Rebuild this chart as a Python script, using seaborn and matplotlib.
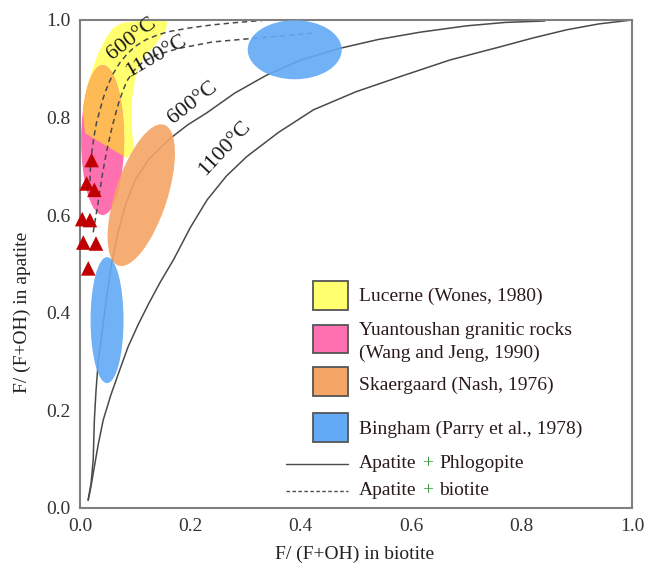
import numpy as np
import pandas as pd
import matplotlib
matplotlib.use("Agg")
import matplotlib.pyplot as plt
import seaborn as sns
from matplotlib.patches import Ellipse, Polygon, Rectangle
from matplotlib.lines import Line2D
from matplotlib.transforms import Affine2D

# ---- Apatite + phlogopite equilibrium curves (solid) ----
phl_600_x = [0.0145, 0.020, 0.024, 0.025, 0.026, 0.029, 0.033, 0.040, 0.048, 0.057, 0.068, 0.082,
             0.100, 0.125, 0.163, 0.195, 0.230, 0.280, 0.338, 0.400, 0.471, 0.540, 0.616, 0.700,
             0.770, 0.842]
phl_600_y = [0.016, 0.050, 0.100, 0.140, 0.180, 0.240, 0.300, 0.360, 0.430, 0.500, 0.560, 0.620,
             0.672, 0.715, 0.757, 0.785, 0.810, 0.850, 0.887, 0.918, 0.942, 0.960, 0.975, 0.988,
             0.995, 0.998]
phl_1100_x = [0.015, 0.020, 0.025, 0.033, 0.042, 0.056, 0.072, 0.087, 0.105, 0.125, 0.145, 0.170,
              0.200, 0.230, 0.265, 0.302, 0.360, 0.423, 0.500, 0.580, 0.670, 0.761, 0.820, 0.882,
              0.940, 1.0]
phl_1100_y = [0.016, 0.045, 0.078, 0.130, 0.180, 0.232, 0.283, 0.330, 0.375, 0.420, 0.462, 0.510,
              0.575, 0.631, 0.680, 0.720, 0.770, 0.816, 0.853, 0.884, 0.918, 0.945, 0.963, 0.980,
              0.992, 1.0]

# ---- Apatite + biotite equilibrium curves (dashed) ----
bt_600_x = [0.018, 0.019, 0.022, 0.026, 0.030, 0.036, 0.042, 0.050, 0.060, 0.072, 0.085, 0.100,
            0.120, 0.140, 0.160, 0.200, 0.240, 0.285, 0.330]
bt_600_y = [0.670, 0.700, 0.735, 0.765, 0.790, 0.815, 0.840, 0.865, 0.890, 0.912, 0.930, 0.946,
            0.960, 0.969, 0.976, 0.984, 0.990, 0.995, 0.999]
bt_1100_x = [0.024, 0.028, 0.032, 0.036, 0.040, 0.044, 0.048, 0.053, 0.058, 0.064, 0.070, 0.077,
             0.085, 0.098, 0.115, 0.140, 0.180, 0.240, 0.330, 0.420]
bt_1100_y = [0.565, 0.593, 0.620, 0.650, 0.680, 0.705, 0.730, 0.755, 0.780, 0.806, 0.830, 0.853,
             0.875, 0.897, 0.915, 0.929, 0.942, 0.955, 0.964, 0.973]

# ---- Measured samples ----
sample_x = [0.021, 0.012, 0.026, 0.004, 0.018, 0.006, 0.029, 0.015]
sample_y = [0.713, 0.665, 0.652, 0.592, 0.590, 0.544, 0.542, 0.491]

# ---- Reference fields ----
lucerne_outline = [(0.047, 0.963), (0.060, 0.984), (0.076, 0.994), (0.109, 0.998), (0.145, 1.0),
                   (0.158, 0.996), (0.156, 0.980), (0.136, 0.949), (0.112, 0.918), (0.100, 0.881),
                   (0.094, 0.836), (0.094, 0.775), (0.098, 0.734), (0.085, 0.717), (0.009, 0.768),
                   (0.005, 0.816), (0.011, 0.857), (0.022, 0.898), (0.034, 0.934)]
# centre (data), width / height (screen px), angle (deg)
yuantoushan_field = (0.041, 0.754, 43, 150, 0)
skaergaard_field = (0.111, 0.641, 148, 52, 72)
bingham_low_field = (0.049, 0.385, 33, 126, 0)
bingham_high_field = (0.389, 0.939, 94, 59, 0)

legend_fields = ["Lucerne (Wones, 1980)",
                 "Yuantoushan granitic rocks\n(Wang and Jeng, 1990)",
                 "Skaergaard (Nash, 1976)",
                 "Bingham (Parry et al., 1978)"]
field_colors = ["#FFFF70", "#FF70B0", "#F4A465", "#62AAF5"]
amber = "#FDBA55"

sns.set_theme(style="white")
plt.rcParams["font.family"] = ["Liberation Serif", "DejaVu Serif"]
plt.rcParams["mathtext.fontset"] = "stix"

W, H = 645, 565
fig = plt.figure(figsize=(W / 100, H / 100), dpi=100)
ax = fig.add_axes([80 / W, 57 / H, 552 / W, 488 / H])
ax.set_xlim(0, 1)
ax.set_ylim(0, 1)
PX_X, PX_Y = 552.0, 488.0


def field(spec, color, z, alpha=1.0):
    cx, cy, w, h, ang = spec
    tr = Affine2D().scale(1 / PX_X, 1 / PX_Y).translate(cx, cy) + ax.transData
    e = Ellipse((0, 0), w, h, angle=ang, transform=tr, facecolor=color,
                edgecolor="none", alpha=alpha, zorder=z)
    ax.add_patch(e)
    return e


# Lucerne field, Yuantoushan ellipse and their overlap
luc = Polygon(lucerne_outline, closed=True, facecolor=field_colors[0], edgecolor="none", zorder=1)
ax.add_patch(luc)
field(yuantoushan_field, field_colors[1], 1.2)
ov = field(yuantoushan_field, amber, 1.3)
ov.set_clip_path(luc)

# Equilibrium curves
line_col = "#4a4a4a"
for xs, ys in [(phl_600_x, phl_600_y), (phl_1100_x, phl_1100_y)]:
    sns.lineplot(x=xs, y=ys, sort=False, estimator=None, color=line_col, lw=1.1, ax=ax, zorder=2)
for xs, ys in [(bt_600_x, bt_600_y), (bt_1100_x, bt_1100_y)]:
    sns.lineplot(x=xs, y=ys, sort=False, estimator=None, color=line_col, lw=1.1,
                 linestyle=(0, (3.5, 2.5)), ax=ax, zorder=2)

# Skaergaard and Bingham fields over the curves
field(skaergaard_field, field_colors[2], 3, alpha=0.9)
field(bingham_low_field, field_colors[3], 3, alpha=0.9)
field(bingham_high_field, field_colors[3], 3, alpha=0.9)

# Samples
sns.scatterplot(x=sample_x, y=sample_y, marker="^", s=110, color="#C00000",
                edgecolor="none", ax=ax, zorder=6, clip_on=False)

# Temperature labels
lab = dict(fontsize=16, color="#1a1a1a", ha="center", va="center", zorder=4)
ax.text(0.094, 0.961, "600°C", rotation=38, **lab)
ax.text(0.138, 0.926, "1100°C", rotation=30, **lab)
ax.text(0.205, 0.830, "600°C", rotation=38, **lab)
ax.text(0.262, 0.738, "1100°C", rotation=47, **lab)

# Legend
sq_y = [0.4057, 0.317, 0.2295, 0.1359]
txt_y = [0.4344, 0.340, 0.252, 0.1613]
for c, by, ty, name in zip(field_colors, sq_y, txt_y, legend_fields):
    ax.add_patch(Rectangle((0.4227, by), 0.0634, 0.059, transform=ax.transAxes,
                           facecolor=c, edgecolor="#555555", lw=1.3, zorder=5))
    ax.text(0.506, ty, name, transform=ax.transAxes, fontsize=14, ha="left", va="center",
            color="#2a1a1a", linespacing=1.4, zorder=5)

for ly, ls, word in [(0.0902, "-", "Phlogopite"), (0.0355, (0, (2.5, 1.8)), "biotite")]:
    ax.add_line(Line2D([0.374, 0.485], [ly, ly], transform=ax.transAxes, color=line_col,
                       lw=1.0, linestyle=ls, zorder=5))
    t1 = ax.text(0.506, ly, "Apatite", transform=ax.transAxes, fontsize=14, ha="left",
                 va="center", color="#2a1a1a", zorder=5)
    t2 = ax.annotate("+", xy=(1, 0), xycoords=t1, xytext=(4, 0), textcoords="offset points",
                     fontsize=14, ha="left", va="bottom", color="#3a9a3a", zorder=5)
    ax.annotate(word, xy=(1, 0), xycoords=t2, xytext=(4, 0), textcoords="offset points",
                fontsize=14, ha="left", va="bottom", color="#2a1a1a", zorder=5)

# Axes styling
ticks = [0.0, 0.2, 0.4, 0.6, 0.8, 1.0]
ax.set_xticks(ticks)
ax.set_yticks(ticks)
ax.set_xticklabels([f"{t:.1f}" for t in ticks])
ax.set_yticklabels([f"{t:.1f}" for t in ticks])
ax.tick_params(length=0, labelsize=14, pad=7, colors="#333333")
for sp in ax.spines.values():
    sp.set_color("#808080")
    sp.set_linewidth(1.5)
    sp.set_visible(True)

ax.set_xlabel("F/ (F+OH) in biotite", fontsize=14, color="#222222")
ax.set_ylabel("F/ (F+OH) in apatite", fontsize=14, color="#222222")
ax.xaxis.set_label_coords(0.498, -0.078)
ax.yaxis.set_label_coords(-0.088, 0.40)

fig.savefig("out.png", dpi=100)
